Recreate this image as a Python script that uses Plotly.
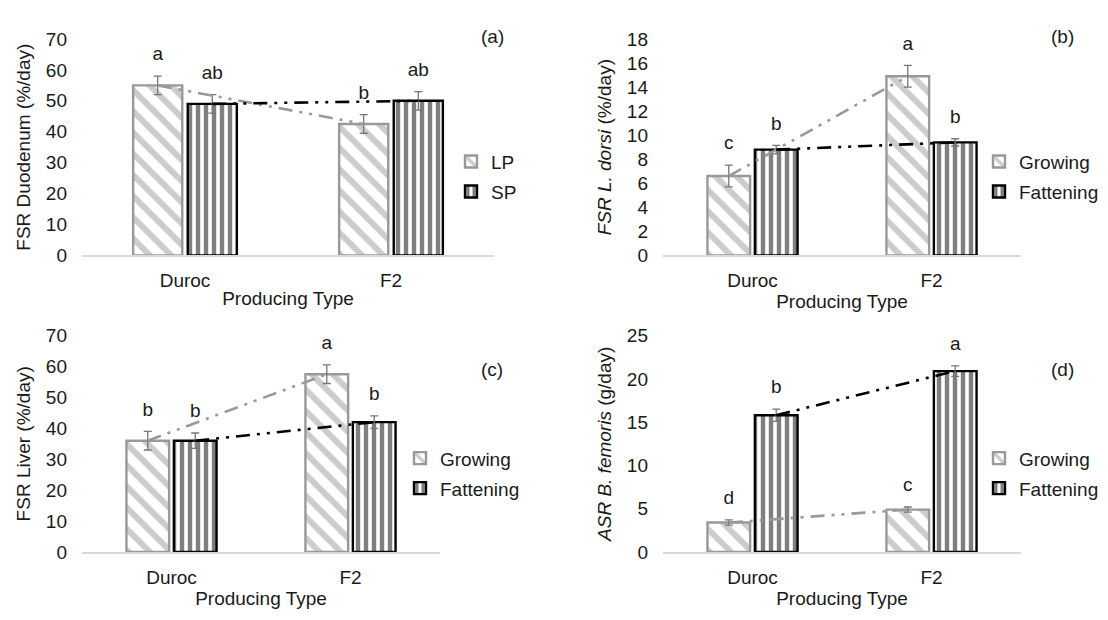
import plotly.graph_objects as go

# ---------------- data ----------------
categories = ["Duroc", "F2"]

# (a) FSR Duodenum
a_names = ["LP", "SP"]
a_s1 = [55.0, 42.5]
a_s1_err = [3.0, 3.0]
a_s2 = [49.0, 50.0]
a_s2_err = [3.0, 3.0]
a_s1_letters = ["a", "b"]
a_s2_letters = ["ab", "ab"]

# (b) FSR L. dorsi
b_names = ["Growing", "Fattening"]
b_s1 = [6.6, 14.9]
b_s1_err = [0.9, 0.9]
b_s2 = [8.8, 9.4]
b_s2_err = [0.35, 0.3]
b_s1_letters = ["c", "a"]
b_s2_letters = ["b", "b"]

# (c) FSR Liver
c_names = ["Growing", "Fattening"]
c_s1 = [36.0, 57.5]
c_s1_err = [3.0, 3.0]
c_s2 = [36.0, 42.0]
c_s2_err = [2.5, 2.0]
c_s1_letters = ["b", "a"]
c_s2_letters = ["b", "b"]

# (d) ASR B. femoris
d_names = ["Growing", "Fattening"]
d_s1 = [3.4, 4.9]
d_s1_err = [0.3, 0.3]
d_s2 = [15.8, 20.9]
d_s2_err = [0.7, 0.6]
d_s1_letters = ["d", "c"]
d_s2_letters = ["b", "a"]

y_titles = ["FSR Duodenum (%/day)",
            "<i>FSR L. dorsi</i> (%/day)",
            "FSR Liver (%/day)",
            "<i>ASR B. femoris</i> (g/day)"]
y_ranges = [[0, 70], [0, 18], [0, 70], [0, 25]]
y_dticks = [10, 2, 10, 5]
panel_tags = ["(a)", "(b)", "(c)", "(d)"]
x_title = "Producing Type"

# ---------------- style ----------------
FONT = "Liberation Sans, Arial, sans-serif"
FS = 19
TXT = "#1a1a1a"
GRAY = "#999999"
BLACK = "#000000"
W, H = 1108, 620

def px_x(p):
    return p / W

def px_y(p):
    return 1 - p / H

panels = [
    dict(names=a_names, s1=a_s1, e1=a_s1_err, s2=a_s2, e2=a_s2_err, l1=a_s1_letters, l2=a_s2_letters,
         xd=[px_x(82), px_x(494)], yd=[px_y(254), px_y(30)], leg_x=451, leg_y=[157, 188],
         tag=(492, 27)),
    dict(names=b_names, s1=b_s1, e1=b_s1_err, s2=b_s2, e2=b_s2_err, l1=b_s1_letters, l2=b_s2_letters,
         xd=[px_x(663), px_x(1021)], yd=[px_y(254), px_y(30)], leg_x=979, leg_y=[157, 188],
         tag=(1062, 27)),
    dict(names=c_names, s1=c_s1, e1=c_s1_err, s2=c_s2, e2=c_s2_err, l1=c_s1_letters, l2=c_s2_letters,
         xd=[px_x(82), px_x(440)], yd=[px_y(561), px_y(337)], leg_x=400, leg_y=[464, 495],
         tag=(492, 372)),
    dict(names=d_names, s1=d_s1, e1=d_s1_err, s2=d_s2, e2=d_s2_err, l1=d_s1_letters, l2=d_s2_letters,
         xd=[px_x(663), px_x(1021)], yd=[px_y(561), px_y(337)], leg_x=979, leg_y=[464, 495],
         tag=(1062, 372)),
]

fig = go.Figure()
layout = dict(
    width=W, height=H,
    margin=dict(l=0, r=0, t=0, b=0),
    paper_bgcolor="white", plot_bgcolor="white",
    font=dict(family=FONT, size=FS, color=TXT),
    barmode="group", bargap=0.47, bargroupgap=0.1,
    scattermode="group",
    annotations=[],
)

DASH = "14px,7px,3px,7px,3px,7px"
leg_idx = 0
for i, p in enumerate(panels):
    n = "" if i == 0 else str(i + 1)
    xa, ya = "x" + n, "y" + n
    series = [
        (p["names"][0], p["s1"], p["e1"], p["l1"], GRAY, "\\", 15, 0.4, "g1"),
        (p["names"][1], p["s2"], p["e2"], p["l2"], BLACK, "|", 8, 0.55, "g2"),
    ]
    for k, (name, vals, errs, letters, col, shape, psize, sol, og) in enumerate(series):
        leg_idx += 1
        lname = "legend" if leg_idx == 1 else f"legend{leg_idx}"
        fig.add_trace(go.Bar(
            x=categories, y=vals, name=name, xaxis=xa, yaxis=ya, offsetgroup=og,
            legend=lname,
            marker=dict(color="white",
                        line=dict(color=col, width=2.4),
                        pattern=dict(shape=shape, fgcolor=col, bgcolor="white",
                                     size=psize, solidity=sol, fillmode="overlay")),
            error_y=dict(type="data", array=errs, visible=True, color="#767676",
                         thickness=1.3, width=4),
        ))
        # trend line between the two producing types
        fig.add_trace(go.Scatter(
            x=categories, y=vals, mode="lines", xaxis=xa, yaxis=ya, offsetgroup=og,
            showlegend=False, hoverinfo="skip",
            line=dict(color=col, width=2.6, dash=DASH),
        ))
        # significance letters above the error bars
        fig.add_trace(go.Scatter(
            x=categories, y=[v + e for v, e in zip(vals, errs)], mode="markers+text",
            text=letters, textposition="top center", xaxis=xa, yaxis=ya, offsetgroup=og,
            showlegend=False, hoverinfo="skip", cliponaxis=False,
            marker=dict(size=16, opacity=0),
            textfont=dict(family=FONT, size=FS, color=TXT),
        ))
        layout[lname] = dict(
            x=px_x(p["leg_x"]), xanchor="left",
            y=px_y(p["leg_y"][k]), yanchor="middle",
            bgcolor="rgba(0,0,0,0)", borderwidth=0,
            font=dict(family=FONT, size=FS, color=TXT),
            itemclick=False, itemdoubleclick=False,
        )

    layout["xaxis" + n] = dict(
        domain=p["xd"], anchor=ya, type="category",
        showline=True, linecolor="#d9d9d9", linewidth=1.5, mirror=False,
        ticks="", showgrid=False, zeroline=False,
        tickfont=dict(family=FONT, size=FS, color=TXT),
        ticklabelstandoff=7,
        title=dict(text=x_title, standoff=2, font=dict(family=FONT, size=FS, color=TXT)),
    )
    layout["yaxis" + n] = dict(
        domain=p["yd"], anchor=xa, range=y_ranges[i], dtick=y_dticks[i],
        showline=False, showgrid=False, zeroline=False, ticks="",
        tickfont=dict(family=FONT, size=FS, color=TXT),
        ticklabelstandoff=14,
        title=dict(text=y_titles[i], standoff=10, font=dict(family=FONT, size=FS, color=TXT)),
    )
    layout["annotations"].append(dict(
        text=panel_tags[i], xref="paper", yref="paper",
        x=px_x(p["tag"][0]), y=px_y(p["tag"][1]), xanchor="center", yanchor="middle",
        showarrow=False, font=dict(family=FONT, size=FS, color=TXT),
    ))

fig.update_layout(**layout)
fig.write_html("out.html", config={"displayModeBar": False},
               post_script="document.body.style.margin='0px';")
